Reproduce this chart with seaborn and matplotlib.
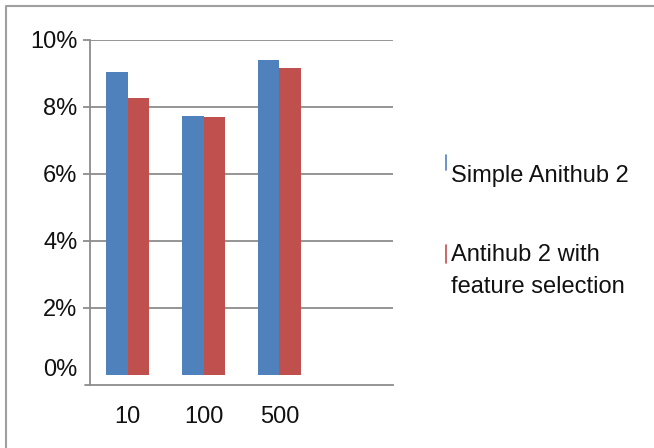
import matplotlib
matplotlib.use("Agg")
import matplotlib.pyplot as plt
import matplotlib.transforms as mtransforms
from matplotlib.lines import Line2D
import seaborn as sns
import pandas as pd

# Values (percent) per feature-count setting
categories = ["10", "100", "500"]
simple_antihub = [9.04, 7.74, 9.40]
antihub_fs = [8.26, 7.70, 9.15]
series_names = ["Simple Anithub 2", "Antihub 2 with\nfeature selection"]
ytick_values = [0, 2, 4, 6, 8, 10]
ytick_labels = ["0%", "2%", "4%", "6%", "8%", "10%"]

colors = ["#4F81BD", "#C0504D"]
grid_col = "#8C8C8C"
text_col = "#111111"

sns.set_theme(style="white")
plt.rcParams["font.family"] = ["Liberation Sans", "DejaVu Sans"]

df = pd.DataFrame({
    "setting": categories * 2,
    "value": simple_antihub + antihub_fs,
    "series": [series_names[0]] * 3 + [series_names[1]] * 3,
})

fig = plt.figure(figsize=(6.54, 4.48), dpi=100)
ax = fig.add_axes([90 / 654, 1 - 385 / 448, 303 / 654, 345 / 448])

sns.barplot(data=df, x="setting", y="value", hue="series", order=categories,
            hue_order=series_names, palette=colors, width=0.57, saturation=1,
            edgecolor="none", linewidth=0, legend=False, ax=ax)

ax.set_xlim(-0.5, 3.5)
ax.set_ylim(-0.3, 10)
ax.set_yticks(ytick_values)
ax.set_yticklabels(ytick_labels)
ax.set_xlabel("")
ax.set_ylabel("")

# horizontal gridlines behind the bars
for v in ytick_values[1:]:
    ax.axhline(v, color=grid_col, lw=1.3, zorder=0)

for s in ["top", "right"]:
    ax.spines[s].set_visible(False)
for s in ["left", "bottom"]:
    ax.spines[s].set_color(grid_col)
    ax.spines[s].set_linewidth(1.3)

ax.tick_params(axis="y", length=5, width=1.3, color=grid_col, pad=4,
               labelsize=17, labelcolor=text_col, left=True)
ax.tick_params(axis="x", length=0, pad=15, labelsize=17, labelcolor=text_col)
ax.yaxis.get_major_ticks()[0].tick1line.set_visible(False)
zero_lab = ax.get_yticklabels()[0]
zero_lab.set_transform(zero_lab.get_transform() +
                       mtransforms.ScaledTranslation(0, 7 / 100, fig.dpi_scale_trans))
ax.add_line(Line2D([-5 / 303, 0], [0, 0], transform=ax.transAxes,
                   color=grid_col, lw=1.3, clip_on=False))

# legend: thin colour marks beside the labels
leg_y = [176 / 448, 271 / 448]
mark_y = [(155 / 448, 170 / 448), (245 / 448, 263 / 448)]
for name, c, ty, (m0, m1) in zip(series_names, colors, leg_y, mark_y):
    fig.add_artist(Line2D([446 / 654] * 2, [1 - m0, 1 - m1], color=c, lw=1.2))
    fig.text(451 / 654, 1 - ty, name, color=text_col, fontsize=17,
             ha="left", va="center", linespacing=1.6)

# outer frame (top and left edges)
fig.add_artist(Line2D([6 / 654, 6 / 654, 1], [0, 1 - 6 / 448, 1 - 6 / 448],
                      color="#A0A0A0", lw=1.5))

fig.savefig("out.png", dpi=100)
